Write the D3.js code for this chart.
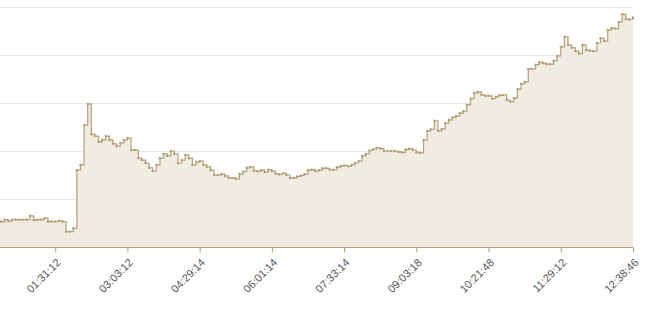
<!DOCTYPE html>
<html>
<head>
<meta charset="utf-8">
<script src="https://cdn.jsdelivr.net/npm/d3@7"></script>
<style>
  body { margin: 0; background: #fff; }
  svg { display: block; }
  text { -webkit-font-smoothing: antialiased; }
</style>
</head>
<body>
<svg id="chart" width="646" height="312"></svg>
<script>
// one value per sample
const values = [
  54, 54, 54, 54, 54, 53, 57, 54, 57, 57,
  57, 57, 57, 65, 56, 57, 57, 60, 53, 53,
  53, 55, 53, 32, 32, 39, 160, 171, 254, 298,
  235, 231, 219, 223, 231, 223, 215, 210, 217, 223,
  227, 202, 202, 185, 181, 175, 165, 158, 171, 185,
  194, 190, 200, 194, 175, 181, 192, 185, 171, 177,
  179, 171, 167, 160, 150, 150, 152, 148, 144, 144,
  142, 152, 157, 165, 167, 159, 158, 160, 156, 161,
  158, 153, 151, 154, 150, 144, 144, 147, 149, 152,
  160, 161, 158, 160, 164, 164, 161, 161, 166, 169,
  170, 168, 171, 175, 179, 190, 194, 201, 204, 207,
  205, 200, 200, 200, 200, 198, 197, 203, 205, 202,
  197, 196, 223, 242, 245, 263, 242, 246, 258, 265,
  270, 273, 279, 283, 296, 309, 321, 323, 317, 315,
  315, 309, 313, 316, 317, 306, 303, 310, 329, 340,
  344, 371, 371, 380, 385, 383, 381, 381, 388, 398,
  417, 438, 421, 415, 408, 403, 421, 410, 409, 408,
  425, 435, 429, 452, 456, 455, 469, 485, 475, 474,
  478
];

// sample index of each labelled tick
const tickIndex = [20, 40, 60, 80, 100, 120, 140, 160, 180];
const tickLabels = ["01:31:12", "03:03:12", "04:29:14", "06:01:14", "07:33:14",
  "09:03:18", "10:21:48", "11:29:12", "12:38:46"];

const yGrid = [0, 100, 200, 300, 400, 500];

const svg = d3.select("#chart");
const lineColor = "#b3a079";
const fillColor = "#f1ece2";

const x = d3.scaleLinear()
  .domain([0, values.length - 1])
  .range([-17, 633]);

const y = d3.scaleLinear()
  .domain([0, 500])
  .range([247, 7]);

const chart = svg.append("g").attr("font-family", "'Liberation Sans', Arial, sans-serif");

// horizontal grid
chart
  .append("g")
  .attr("class", "grid")
  .selectAll("line")
  .data(yGrid)
  .join("line")
  .attr("x1", 0)
  .attr("x2", 633)
  .attr("y1", (d) => Math.round(y(d)) + 0.5)
  .attr("y2", (d) => Math.round(y(d)) + 0.5)
  .attr("stroke", "#e8e8e8")
  .attr("stroke-width", 1);

const area = d3.area()
  .curve(d3.curveStepAfter)
  .x((d, i) => x(i))
  .y0(y(0))
  .y1((d) => y(d));

const line = d3.line()
  .curve(d3.curveStepAfter)
  .x((d, i) => x(i))
  .y((d) => y(d));

chart
  .append("path")
  .datum(values)
  .attr("d", area)
  .attr("fill", fillColor);

chart
  .append("path")
  .datum(values)
  .attr("d", line)
  .attr("fill", "none")
  .attr("stroke", lineColor)
  .attr("stroke-width", 1.2);

chart
  .append("g")
  .selectAll("circle")
  .data(values)
  .join("circle")
  .attr("cx", (d, i) => x(i))
  .attr("cy", (d) => y(d))
  .attr("r", 1.2)
  .attr("fill", lineColor);

// x axis
const xAxis = d3.axisBottom(x)
  .tickValues(tickIndex)
  .tickFormat((d, i) => tickLabels[i])
  .tickSizeInner(5)
  .tickSizeOuter(0);

const axisG = chart
  .append("g")
  .attr("transform", `translate(0,${y(0) + 0.5})`)
  .call(xAxis);

axisG.select(".domain")
  .attr("stroke", lineColor)
  .attr("d", `M0,0H633`);

axisG.selectAll(".tick line").attr("stroke", lineColor);

axisG.selectAll(".tick text")
  .attr("fill", "#555")
  .attr("font-size", 11)
  .attr("text-anchor", "end")
  .attr("dy", "0.35em")
  .attr("y", 0)
  .attr("transform", "translate(3,13) rotate(-45)");
</script>
</body>
</html>
